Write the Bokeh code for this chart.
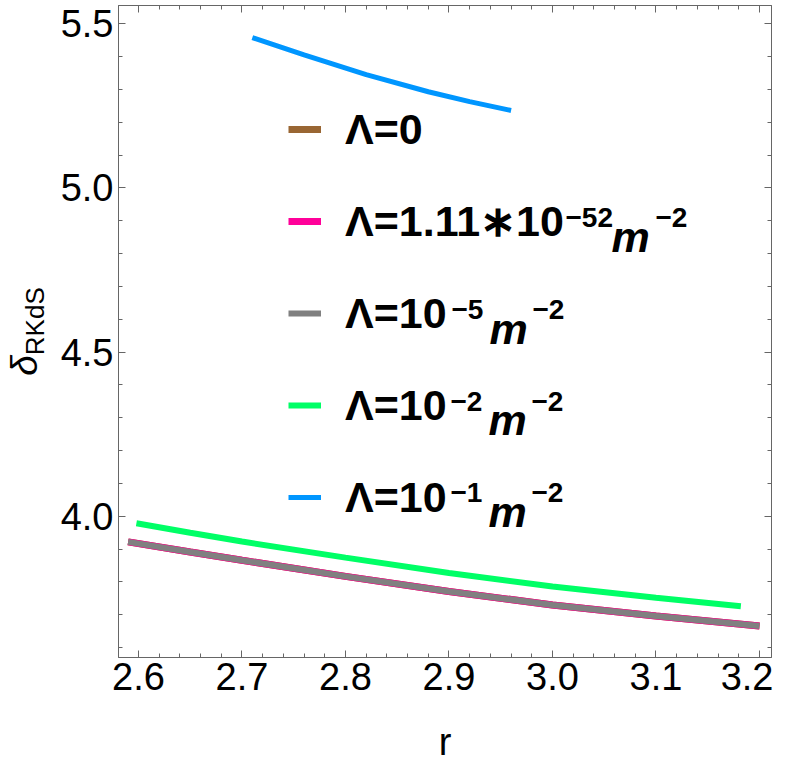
import numpy as np
from bokeh.plotting import figure
from bokeh.layouts import row
from bokeh.models import LinearAxis, FixedTicker, Range1d, Legend, LegendItem, Label, PrintfTickFormatter, Div
from bokeh.embed import file_html
from bokeh.resources import INLINE

# ---- data ----
r_base = [2.59, 2.65, 2.70, 2.80, 2.90, 3.00, 3.10, 3.20]
delta_L0 = [3.922, 3.891, 3.866, 3.817, 3.771, 3.730, 3.696, 3.666]
delta_L52 = [3.922, 3.891, 3.866, 3.817, 3.771, 3.730, 3.696, 3.666]
delta_L5 = [3.922, 3.891, 3.866, 3.817, 3.771, 3.730, 3.696, 3.666]

r_green = [2.598, 2.65, 2.70, 2.80, 2.90, 3.00, 3.10, 3.182]
delta_L2 = [3.979, 3.950, 3.923, 3.874, 3.827, 3.786, 3.752, 3.726]

r_blue = [2.71, 2.76, 2.82, 2.88, 2.92, 2.96]
delta_L1 = [5.458, 5.405, 5.345, 5.293, 5.263, 5.236]

legend_base = ["Λ=0", "Λ=1.11∗10", "Λ=10", "Λ=10", "Λ=10"]
legend_exp = [None, "−52", "−5", "−2", "−1"]
legend_unit = "m"
legend_unit_exp = "−2"
colors = ["#996633", "#FF0099", "#808080", "#00FF66", "#0096FF"]

x_major = [2.6, 2.7, 2.8, 2.9, 3.0, 3.1, 3.2]
x_minor = [round(2.58 + 0.02 * i, 2) for i in range(33)]
y_major = [4.0, 4.5, 5.0, 5.5]
y_minor = [round(3.6 + 0.1 * i, 1) for i in range(20)]

FONT = "Liberation Sans"
AX = "#666666"

X0, X1 = 2.5807, 3.2116
Y0, Y1 = 3.5699, 5.5557
FW, FH = 653, 652
DIVW = 48
FL, FT = 118, 5   # frame left / top in page pixels

def px2x(px):
    return X0 + (px - FL) * (X1 - X0) / FW

def py2y(py):
    return Y1 - (py - FT) * (Y1 - Y0) / FH

p = figure(frame_width=FW, frame_height=FH,
           x_range=Range1d(X0, X1), y_range=Range1d(Y0, Y1),
           output_backend="svg", toolbar_location=None,
           min_border_left=FL - DIVW, min_border_top=FT, min_border_right=2, min_border_bottom=100,
           background_fill_color="white", border_fill_color="white")
p.xgrid.visible = False
p.ygrid.visible = False
p.outline_line_color = AX

r0 = p.line(r_base, delta_L0, line_color=colors[0], line_width=7)
r1 = p.line(r_base, delta_L52, line_color=colors[1], line_width=7)
r2 = p.line(r_base, delta_L5, line_color=colors[2], line_width=6)
r3 = p.line(r_green, delta_L2, line_color=colors[3], line_width=6)
r4 = p.line(r_blue, delta_L1, line_color=colors[4], line_width=5)

def style_axis(ax, ticks, minor, show_labels):
    ax.ticker = FixedTicker(ticks=ticks, minor_ticks=minor)
    ax.axis_line_color = AX
    ax.major_tick_line_color = AX
    ax.minor_tick_line_color = AX
    ax.major_tick_in = 7
    ax.major_tick_out = 0
    ax.minor_tick_in = 4
    ax.minor_tick_out = 0
    ax.formatter = PrintfTickFormatter(format="%.1f")
    if show_labels:
        ax.major_label_text_font = FONT
        ax.major_label_text_font_size = "38px"
        ax.major_label_text_color = "black"
    else:
        ax.major_label_text_font_size = "0px"
        ax.major_label_text_color = None
        ax.major_label_standoff = 0

style_axis(p.xaxis[0], x_major, x_minor, True)
style_axis(p.yaxis[0], y_major, y_minor, True)
p.xaxis[0].major_label_standoff = 5
p.yaxis[0].major_label_standoff = 5
p.xaxis[0].axis_label = "r"
p.xaxis[0].axis_label_text_font = FONT
p.xaxis[0].axis_label_text_font_size = "38px"
p.xaxis[0].axis_label_text_font_style = "normal"
p.xaxis[0].axis_label_text_color = "black"
p.xaxis[0].axis_label_standoff = 28

top = LinearAxis()
style_axis(top, x_major, x_minor, False)
p.add_layout(top, "above")
right = LinearAxis()
style_axis(right, y_major, y_minor, False)
p.add_layout(right, "right")

legend = Legend(items=[LegendItem(label=legend_base[i], renderers=[rr])
                       for i, rr in enumerate([r0, r1, r2, r3, r4])],
                location=(170, 130), padding=0, margin=0, spacing=32,
                glyph_width=33, glyph_height=60, label_height=60, label_standoff=24,
                label_text_font=FONT, label_text_font_style="bold",
                label_text_font_size="43px", label_text_color="black",
                border_line_color=None, background_fill_alpha=0)
p.add_layout(legend)

# superscripts and units of the legend entries (page pixel positions)
row_center = [130, 221.7, 313.4, 405.1, 496.8]
exp_x = [None, 565, 451, 450, 450]
unit_x = [None, 611, 489, 488, 488]
uexp_x = [None, 655, 532, 531, 531]
for i in range(1, 5):
    base = row_center[i] + 14.6
    sup = base - 19
    p.add_layout(Label(x=px2x(exp_x[i]), y=py2y(sup), text=legend_exp[i],
                       text_font=FONT, text_font_style="bold", text_font_size="28px",
                       text_color="black", text_baseline="alphabetic", text_align="left"))
    p.add_layout(Label(x=px2x(unit_x[i]), y=py2y(base), text=legend_unit,
                       text_font=FONT, text_font_style="bold italic", text_font_size="43px",
                       text_color="black", text_baseline="alphabetic", text_align="left"))
    p.add_layout(Label(x=px2x(uexp_x[i]), y=py2y(sup), text=legend_unit_exp,
                       text_font=FONT, text_font_style="bold", text_font_size="28px",
                       text_color="black", text_baseline="alphabetic", text_align="left"))

# y axis label  δ_RKdS (rotated HTML text with a real subscript)
ylab_html = (
    '<div style="width:%dpx;height:%dpx;margin-top:%dpx;display:flex;'
    'align-items:center;justify-content:center;">'
    '<span style="display:inline-block;transform:rotate(-90deg);white-space:nowrap;'
    'font-family:\'Liberation Sans\';color:black;line-height:1;">'
    '<i style="font-size:37px;">δ</i>'
    '<span style="font-size:26px;position:relative;top:7px;">RKdS</span>'
    '</span></div>' % (DIVW, FH, FT)
)
ylab = Div(text=ylab_html, width=DIVW, height=FT + FH, margin=(0, 0, 0, 0))

layout = row(ylab, p, spacing=0)

open("out.html", "w").write(file_html(layout, INLINE))
